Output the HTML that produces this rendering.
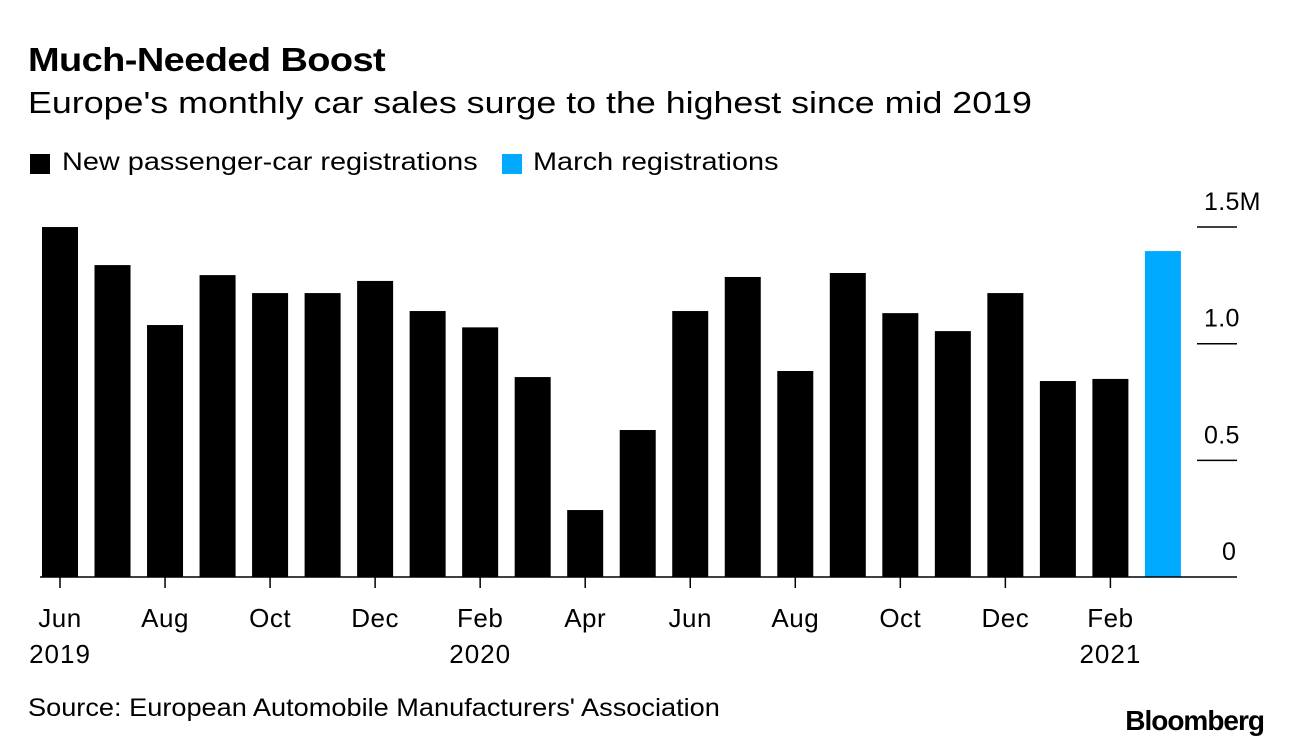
<!DOCTYPE html>
<html><head><meta charset="utf-8"><style>
body{margin:0;background:#fff;font-family:"Liberation Sans",Arial,sans-serif;}
#wrap{position:relative;width:1292px;height:748px;overflow:hidden;}
.t{position:absolute;white-space:nowrap;color:#000;transform-origin:0 0;}
</style></head><body>
<div id="wrap">
<div class="t" style="left:28px;top:41px;font-size:33px;font-weight:bold;letter-spacing:-0.5px;transform:scaleX(1.15)">Much-Needed Boost</div>
<div class="t" style="left:28px;top:85px;font-size:31px;transform:scaleX(1.155)">Europe's monthly car sales surge to the highest since mid 2019</div>
<span style="position:absolute;left:30px;top:154px;width:20px;height:20px;background:#000"></span>
<div class="t" style="left:62px;top:148px;font-size:25px;transform:scaleX(1.155)">New passenger-car registrations</div>
<span style="position:absolute;left:502px;top:154px;width:20px;height:20px;background:#00aaff"></span>
<div class="t" style="left:533px;top:148px;font-size:25px;transform:scaleX(1.155)">March registrations</div>
<svg id="chart" width="1292" height="748" style="position:absolute;left:0;top:0"></svg>
<div class="t" style="left:28px;top:694px;font-size:25px;transform:scaleX(1.086)">Source: European Automobile Manufacturers' Association</div>
<div class="t" style="right:28px;top:705px;font-size:28px;font-weight:bold;letter-spacing:-1px">Bloomberg</div>
</div>
<script>
const categories=["Jun 2019","Jul 2019","Aug 2019","Sep 2019","Oct 2019","Nov 2019","Dec 2019","Jan 2020","Feb 2020","Mar 2020","Apr 2020","May 2020","Jun 2020","Jul 2020","Aug 2020","Sep 2020","Oct 2020","Nov 2020","Dec 2020","Jan 2021","Feb 2021","Mar 2021"];
const values=[1.50,1.337,1.08,1.294,1.217,1.217,1.269,1.14,1.07,0.857,0.287,0.63,1.14,1.286,0.883,1.303,1.131,1.054,1.217,0.84,0.849,1.397];
const highlight=[false,false,false,false,false,false,false,false,false,false,false,false,false,false,false,false,false,false,false,false,false,true];
const yTicks=[0,0.5,1.0,1.5];
const yTickLabels=["0","0.5","1.0","1.5M"];
const xLabels=["Jun","Aug","Oct","Dec","Feb","Apr","Jun","Aug","Oct","Dec","Feb"];
const xLabelIdx=[0,2,4,6,8,10,12,14,16,18,20];
const yearLabels=["2019","2020","2021"];
const yearIdx=[0,8,20];
const NS="http://www.w3.org/2000/svg";
const svg=document.getElementById('chart');
const y0=577,pxPer=233.3,x0=60,step=52.52,bw=36;
const Y=v=>y0-v*pxPer, X=i=>x0+i*step;
function mk(t,a){const e=document.createElementNS(NS,t);for(const k in a)e.setAttribute(k,a[k]);svg.appendChild(e);return e;}
yTicks.forEach((v,i)=>{
 if(v>0){const l=mk('line',{x1:1197,x2:1237,y1:Y(v),y2:Y(v),stroke:'#000','stroke-width':1.5});
 
 }
 const t=mk('text',{x:v===0?1222:1204,y:Y(v)-17,'font-size':25,'letter-spacing':0.3,'font-family':'Liberation Sans, sans-serif'});
 t.textContent=yTickLabels[i];
 
 
});
values.forEach((v,i)=>{
 const r=mk('rect',{x:X(i)-bw/2,y:Y(v),width:bw,height:y0-Y(v),fill:highlight[i]?'#00aaff':'#000'});
 
 
});
const ax=mk('line',{x1:40,x2:1237,y1:y0,y2:y0,stroke:'#000','stroke-width':1.5});


xLabelIdx.forEach((idx,i)=>{
 const tk=mk('line',{x1:X(idx),x2:X(idx),y1:y0,y2:y0+11,stroke:'#000','stroke-width':1.5});
 
 
 const t=mk('text',{x:X(idx),y:627,'text-anchor':'middle','font-size':26,'letter-spacing':0.5,'font-family':'Liberation Sans, sans-serif'});
 t.textContent=xLabels[i];
 
 
});
yearIdx.forEach((idx,i)=>{
 const t=mk('text',{x:X(idx),y:663,'text-anchor':'middle','font-size':26,'letter-spacing':1,'font-family':'Liberation Sans, sans-serif'});
 t.textContent=yearLabels[i];
 
 
});
</script>
</body></html>
